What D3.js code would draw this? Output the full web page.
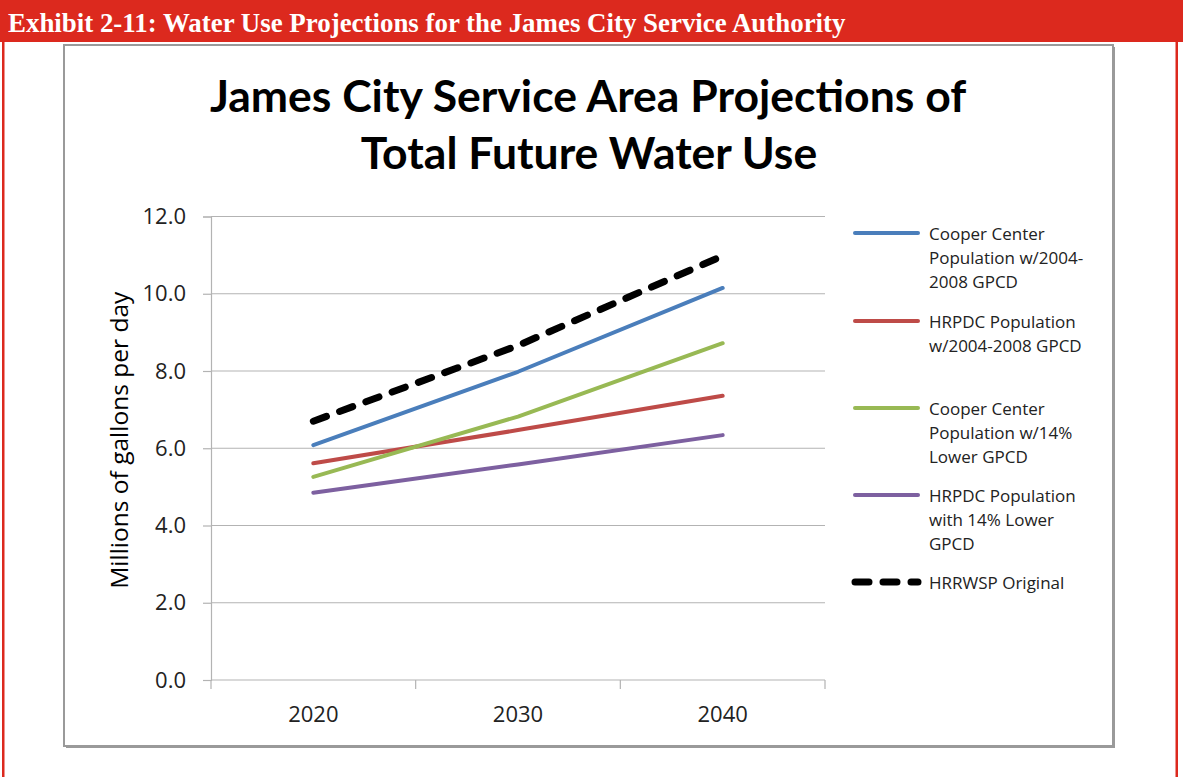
<!DOCTYPE html>
<html>
<head>
<meta charset="utf-8">
<script src="https://cdn.jsdelivr.net/npm/d3@7"></script>
<style>
  html, body { margin: 0; padding: 0; background: #fff; }
  svg { display: block; }
</style>
</head>
<body>
<svg id="chart" width="1183" height="777"></svg>
<script>
// Projection years and series values (million gallons per day)
const years = ["2020", "2030", "2040"];
const cooperCurrent = [6.08, 7.98, 10.15];
const hrpdcCurrent = [5.61, 6.47, 7.36];
const cooperLower = [5.26, 6.82, 8.72];
const hrpdcLower = [4.85, 5.58, 6.34];
const hrrwspOriginal = [6.70, 8.66, 10.98];
const yTicks = [0, 2, 4, 6, 8, 10, 12];

const seriesNames = [
  ["Cooper Center", "Population w/2004-", "2008 GPCD"],
  ["HRPDC Population", "w/2004-2008 GPCD"],
  ["Cooper Center", "Population w/14%", "Lower GPCD"],
  ["HRPDC Population", "with 14% Lower", "GPCD"],
  ["HRRWSP Original"]
];
const seriesValues = [cooperCurrent, hrpdcCurrent, cooperLower, hrpdcLower, hrrwspOriginal];
const seriesColors = ["#4a7ebb", "#be4b48", "#98b954", "#7d60a0", "#000000"];

const svg = d3.select("#chart");
const W = 1183, H = 777;

// Exhibit header band and red page frame
svg.append("rect").attr("x", 0).attr("y", 0).attr("width", W).attr("height", 42).attr("fill", "#dc291e");
svg.append("rect").attr("x", 2).attr("y", 40).attr("width", 2.5).attr("height", H - 40).attr("fill", "#dc291e");
svg.append("rect").attr("x", 1175.5).attr("y", 40).attr("width", 2.5).attr("height", H - 40).attr("fill", "#dc291e");
svg.append("text")
  .attr("x", 8).attr("y", 32)
  .attr("fill", "#fff")
  .attr("font-family", "Liberation Serif, Times New Roman, serif")
  .attr("font-weight", "bold")
  .attr("font-size", 26.9)
  .text("Exhibit 2-11: Water Use Projections for the James City Service Authority");

// Chart frame with a soft grey edge
svg.append("rect").attr("x", 66).attr("y", 47).attr("width", 1049).attr("height", 701).attr("fill", "#9a9a9a");
svg.append("rect").attr("x", 64).attr("y", 45).attr("width", 1049).attr("height", 701)
  .attr("fill", "#fff").attr("stroke", "#9a9a9a").attr("stroke-width", 2);

// Title
const titleFont = "Lato, 'Open Sans', sans-serif";
svg.append("text").attr("x", 588).attr("y", 112).attr("text-anchor", "middle")
  .attr("font-family", titleFont).attr("font-weight", "bold").attr("font-size", 44.5).attr("fill", "#000")
  .text("James City Service Area Projections of");
svg.append("text").attr("x", 589).attr("y", 169).attr("text-anchor", "middle")
  .attr("font-family", titleFont).attr("font-weight", "bold").attr("font-size", 44.5).attr("fill", "#000")
  .text("Total Future Water Use");

// Scales
const plot = { left: 211, right: 825, top: 216.5, bottom: 680 };
const x = d3.scaleBand().domain(years).range([plot.left, plot.right]);
const y = d3.scaleLinear().domain([0, 12]).range([plot.bottom, plot.top]);

const axisFont = "'Open Sans', Lato, sans-serif";

// Horizontal gridlines
svg.append("g").selectAll("line").data(yTicks.filter(d => d > 0)).join("line")
  .attr("x1", plot.left).attr("x2", plot.right)
  .attr("y1", d => y(d)).attr("y2", d => y(d))
  .attr("stroke", "#b3b3b3").attr("stroke-width", 1.2);

// Y axis
const yAxis = svg.append("g").attr("transform", `translate(${plot.left},0)`)
  .call(d3.axisLeft(y).tickValues(yTicks).tickFormat(d3.format(".1f")).tickSize(8).tickPadding(17));
yAxis.select(".domain").attr("stroke", "#b3b3b3").attr("stroke-width", 1.2);
yAxis.selectAll(".tick line").attr("stroke", "#b3b3b3").attr("stroke-width", 1.2);
yAxis.selectAll(".tick text").attr("font-family", axisFont).attr("font-size", 22).attr("fill", "#222");

// X axis (ticks fall between categories)
const xAxis = svg.append("g").attr("transform", `translate(0,${plot.bottom})`)
  .call(d3.axisBottom(x).tickSize(0).tickPadding(26));
xAxis.select(".domain").remove();
xAxis.selectAll(".tick text").attr("font-family", axisFont).attr("font-size", 22).attr("fill", "#222");
svg.append("line").attr("x1", plot.left).attr("x2", plot.right)
  .attr("y1", plot.bottom).attr("y2", plot.bottom).attr("stroke", "#b3b3b3").attr("stroke-width", 1.2);
const bounds = years.map(d => x(d)).concat([plot.right]);
svg.append("g").selectAll("line").data(bounds).join("line")
  .attr("x1", d => d).attr("x2", d => d)
  .attr("y1", plot.bottom).attr("y2", plot.bottom + 9)
  .attr("stroke", "#b3b3b3").attr("stroke-width", 1.2);

// Y axis title
svg.append("text")
  .attr("transform", `translate(128,${(plot.top + plot.bottom) / 2 - 8}) rotate(-90)`)
  .attr("text-anchor", "middle")
  .attr("font-family", axisFont).attr("font-size", 24.5).attr("fill", "#000")
  .text("Millions of gallons per day");

// Series lines
const line = d3.line().x((d, i) => x(years[i]) + x.bandwidth() / 2).y(d => y(d));
const drawOrder = [0, 1, 2, 3, 4];
svg.append("g").selectAll("path").data(drawOrder).join("path")
  .attr("d", i => line(seriesValues[i]))
  .attr("fill", "none")
  .attr("stroke", i => seriesColors[i])
  .attr("stroke-width", i => i === 4 ? 7 : 4)
  .attr("stroke-linecap", "round")
  .attr("stroke-linejoin", "round")
  .attr("stroke-dasharray", i => i === 4 ? "14,14" : null);

// Legend
const legendY = [233, 321, 408, 495, 582];
const lg = svg.append("g");
seriesNames.forEach((names, i) => {
  const ly = legendY[i];
  lg.append("line").attr("x1", 855).attr("x2", 918).attr("y1", ly).attr("y2", ly)
    .attr("stroke", seriesColors[i])
    .attr("stroke-width", i === 4 ? 7 : 4)
    .attr("stroke-linecap", "round")
    .attr("stroke-dasharray", i === 4 ? "14,14" : null);
  names.forEach((t, j) => {
    lg.append("text").attr("x", 929).attr("y", ly + 7 + j * 24)
      .attr("font-family", axisFont).attr("font-size", 17).attr("fill", "#222")
      .text(t);
  });
});
</script>
</body>
</html>
